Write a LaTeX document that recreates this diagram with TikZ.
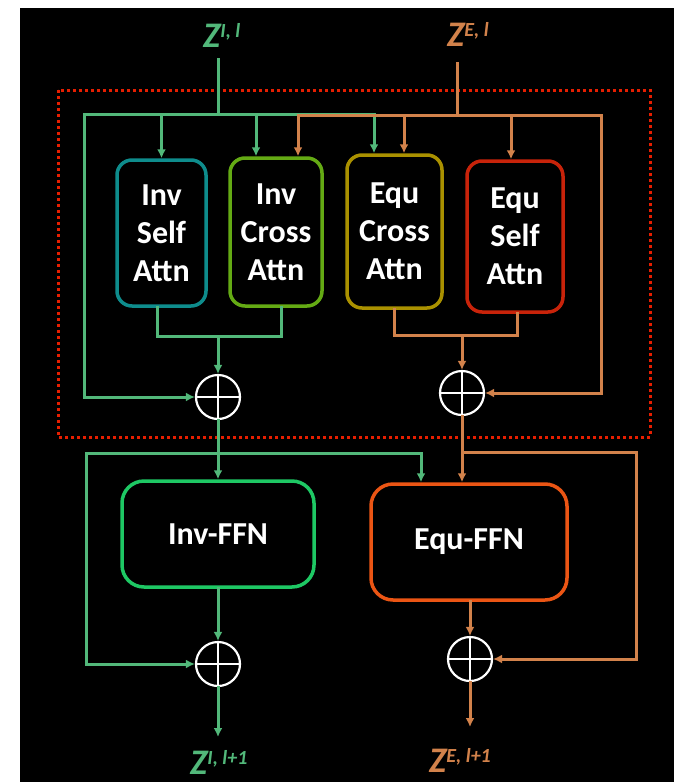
\documentclass[tikz,border=0pt]{standalone}
\usepackage{fontspec}
\setmainfont{Carlito}
\usepackage{tikz}
\usetikzlibrary{calc,shapes,arrows.meta}
\definecolor{invgreen}{RGB}{82,184,122}
\definecolor{equorange}{RGB}{210,130,75}
\definecolor{isacol}{RGB}{14,140,140}
\definecolor{icacol}{RGB}{100,170,20}
\definecolor{ecacol}{RGB}{170,145,0}
\definecolor{esacol}{RGB}{200,35,10}
\definecolor{iffncol}{RGB}{30,200,100}
\definecolor{effncol}{RGB}{235,85,20}
\definecolor{dotred}{RGB}{230,30,0}
\tikzstyle{every picture}=[>={Latex[length=9pt,width=9pt]}]
\tikzstyle{attn}=[draw,line width=3.5pt,rounded corners=15pt,inner sep=0pt,text=white,align=center,font=\fontsize{32}{38}\selectfont\bfseries]
\tikzstyle{ffn}=[attn,rounded corners=22pt]
\tikzstyle{plus}=[circle,draw=white,line width=2.2pt,minimum size=44pt,inner sep=0pt,
    path picture={\draw[white,line width=2.2pt] (path picture bounding box.north) -- (path picture bounding box.south)
        (path picture bounding box.west) -- (path picture bounding box.east);}]
\tikzstyle{zlab}=[inner sep=0pt,anchor=base west,font=\fontsize{36}{36}\selectfont\bfseries\itshape]
\tikzstyle{gline}=[invgreen,line width=3pt,line cap=rect]
\tikzstyle{garrow}=[gline,->]
\tikzstyle{oline}=[equorange,line width=3pt,line cap=rect]
\tikzstyle{oarrow}=[oline,->]
\newcommand{\zsup}[1]{\raisebox{10pt}{\fontsize{20pt}{20pt}\selectfont #1}}

\begin{document}
\begin{tikzpicture}[x=1pt,y=-1pt]
    % canvas
    \fill[white] (0,0) rectangle (674,782);
    \useasboundingbox (0,0) rectangle (674,782);
    \fill[black] (20,8) rectangle (674,782);

    % attention block
    \draw[dotred,line width=3pt,dash pattern=on 3pt off 3pt] (58,90) rectangle (650,437);

    % inputs
    \node[zlab,invgreen] (zi) at (203,47) {Z\zsup{I, l}};
    \node[zlab,equorange] (ze) at (447,46) {Z\zsup{E, l}};
    \coordinate (gin) at (218,59);
    \coordinate (oin) at (457,63);
    \coordinate (gbusl) at (84,114);
    \coordinate (gbusr) at (374,114);
    \coordinate (obusl) at (298,115);
    \coordinate (obusr) at (601,115);

    % attention boxes
    \node[attn,draw=isacol,minimum width=89pt,minimum height=146pt] (isa) at (161.5,233) {Inv\\Self\\Attn};
    \node[attn,draw=icacol,minimum width=92pt,minimum height=148pt] (ica) at (276,232) {Inv\\Cross\\Attn};
    \node[attn,draw=ecacol,minimum width=95pt,minimum height=153pt] (eca) at (394.5,231.5) {Equ\\Cross\\Attn};
    \node[attn,draw=esacol,minimum width=96pt,minimum height=151pt] (esa) at (515,236.5) {Equ\\Self\\Attn};

    % adders
    \node[plus] (addi1) at (218,397) {};
    \node[plus] (adde1) at (462,393) {};
    \node[plus] (addi2) at (218,664) {};
    \node[plus] (adde2) at (470,659) {};

    % ffn boxes
    \node[ffn,draw=iffncol,minimum width=192pt,minimum height=106pt] (iffn) at (218,534) {Inv-FFN};
    \node[ffn,draw=effncol,minimum width=196pt,minimum height=116pt] (effn) at (469,542) {Equ-FFN};

    % outputs
    \coordinate (gout) at (218,737);
    \coordinate (oout) at (470,727);
    \node[zlab,invgreen] (zi2) at (190,774) {Z\zsup{I, l+1}};
    \node[zlab,equorange] (ze2) at (429,772) {Z\zsup{E, l+1}};

    % invariant stream
    \draw[gline] (gin) -- (gin |- gbusl);
    \draw[garrow] (gbusr) -- (gbusl) |- (addi1);
    \draw[garrow] (isa.north |- gbusl) -- (isa.north);
    \draw[garrow] ([xshift=-20pt]ica.north |- gbusl) -- ([xshift=-20pt]ica.north);
    \draw[garrow] (gbusr) -- (gbusr |- eca.north);
    \coordinate (gmix) at (218,336);
    \draw[gline] ([xshift=-4.5pt]isa.south) |- (gmix) -| ([xshift=5pt]ica.south);
    \draw[garrow] (gmix) -- (addi1);
    \coordinate (gsplit) at (218,453);
    \coordinate (gloop) at (86,453);
    \draw[garrow] (addi1) -- (iffn);
    \draw[garrow] (gsplit) -| ([xshift=-48pt]effn.north);
    \draw[garrow] (gsplit) -- (gloop) |- (addi2);
    \draw[garrow] (iffn) -- (addi2);
    \draw[garrow] (addi2) -- (gout);

    % equivariant stream
    \draw[oline] (oin) -- (oin |- obusl);
    \draw[oarrow] (obusl) -- (obusr) |- (adde1);
    \draw[oarrow] (obusl) -- (obusl |- ica.north);
    \draw[oarrow] ([xshift=9.5pt]eca.north |- obusl) -- ([xshift=9.5pt]eca.north);
    \draw[oarrow] ([xshift=-4pt]esa.north |- obusl) -- ([xshift=-4pt]esa.north);
    \coordinate (omix) at (462,335);
    \draw[oline] (eca.south) |- (omix) -| ([xshift=2pt]esa.south);
    \draw[oarrow] (omix) -- (adde1);
    \coordinate (osplit) at (462,452);
    \coordinate (oloop) at (636,452);
    \draw[oarrow] (adde1) -- (adde1 |- effn.north);
    \draw[oarrow] (osplit) -- (oloop) |- (adde2);
    \draw[oarrow] (adde2 |- effn.south) -- (adde2);
    \draw[oarrow] (adde2) -- (oout);
\end{tikzpicture}
\end{document}
